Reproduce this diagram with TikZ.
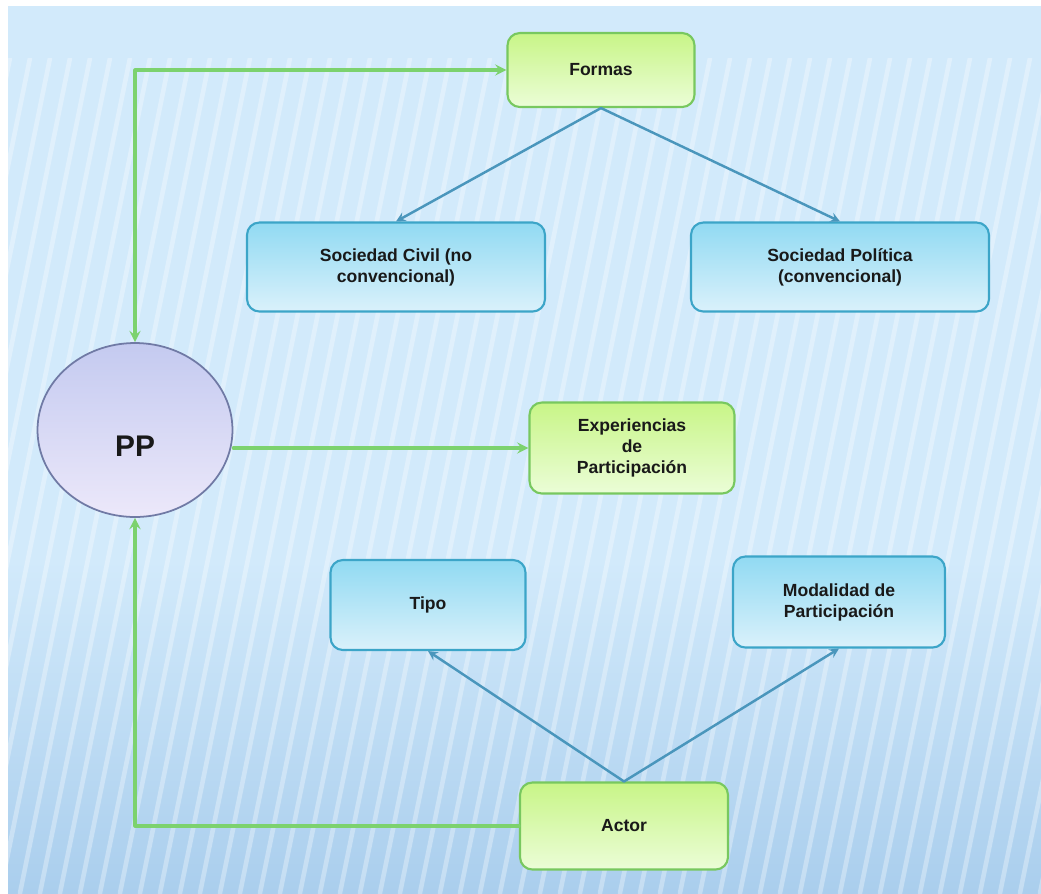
\documentclass[tikz,border=0pt]{standalone}
\usepackage{fontspec}
\setmainfont{Liberation Sans}
\usetikzlibrary{shapes.geometric}
\definecolor{bgblue}{RGB}{210,234,251}
\definecolor{bgdeep}{RGB}{170,206,237}
\definecolor{grline}{RGB}{124,210,110}
\definecolor{grbord}{RGB}{120,200,95}
\definecolor{grtop}{RGB}{200,245,135}
\definecolor{grbot}{RGB}{235,253,215}
\definecolor{blline}{RGB}{74,150,188}
\definecolor{blbord}{RGB}{60,165,200}
\definecolor{bltop}{RGB}{145,218,242}
\definecolor{blbot}{RGB}{218,241,251}
\definecolor{pptop}{RGB}{196,202,240}
\definecolor{ppbot}{RGB}{236,232,250}
\definecolor{ppbord}{RGB}{112,122,165}
\begin{document}
\begin{tikzpicture}[>=stealth,line join=round,line cap=round,x=0.02cm,y=-0.02cm,
	font=\bfseries\fontsize{10}{12}\selectfont,
	gbox/.style={draw=grbord,line width=1.2pt,rounded corners=7pt,top color=grtop,bottom color=grbot,text=black!90,align=center,inner sep=2pt},
	bbox/.style={draw=blbord,line width=1.2pt,rounded corners=7pt,top color=bltop,bottom color=blbot,text=black!90,align=center,inner sep=2pt},
	glink/.style={grline,line width=1.8pt},
	blink/.style={blline,line width=1.4pt}]
	\useasboundingbox (0,0) rectangle (1041,893);
	\fill[white] (0,0) rectangle (1041,893);
	\fill[bgblue] (8,6) rectangle (1041,893);
	\shade[top color=bgblue,bottom color=bgdeep] (8,560) rectangle (1041,893);
	\begin{scope}
		\clip (8,58) rectangle (1041,893);
		\foreach \s in {-220,-200,...,1040}
		\draw[white,opacity=.32,line width=2.6pt] (\s,893) -- (\s+170,58);
	\end{scope}
	% nodes
	\node[gbox,minimum width=3.74cm,minimum height=1.48cm] (formas) at (601,70) {Formas};
	\node[bbox,minimum width=5.96cm,minimum height=1.78cm] (civil) at (396,267) {Sociedad Civil (no\\convencional)};
	\node[bbox,minimum width=5.96cm,minimum height=1.78cm] (politica) at (840,267) {Sociedad Política\\(convencional)};
	\node[ellipse,draw=ppbord,line width=1pt,top color=pptop,bottom color=ppbot,minimum width=3.9cm,minimum height=3.48cm,
		font=\bfseries\fontsize{17}{20}\selectfont,text=black!90] (pp) at (135,430) {\smash{\raisebox{-15pt}{PP}}};
	\node[gbox,minimum width=4.1cm,minimum height=1.82cm] (exper) at (632,448) {Experiencias\\de\\Participación};
	\node[bbox,minimum width=3.9cm,minimum height=1.8cm] (tipo) at (428,605) {Tipo};
	\node[bbox,minimum width=4.24cm,minimum height=1.82cm] (modal) at (839,602) {Modalidad de\\Participación};
	\node[gbox,minimum width=4.16cm,minimum height=1.74cm] (actor) at (624,826) {Actor};
	% connectors
	\draw[glink,<->] (pp.north) |- (formas.west);
	\draw[glink,->] (exper.west -| pp.east) -- (exper.west);
	\draw[glink,->] (actor.west) -| (pp.south);
	\draw[blink,->] (formas.south) -- (civil.north);
	\draw[blink,->] (formas.south) -- (politica.north);
	\draw[blink,->] (actor.north) -- (tipo.south);
	\draw[blink,->] (actor.north) -- (modal.south);
\end{tikzpicture}
\end{document}
